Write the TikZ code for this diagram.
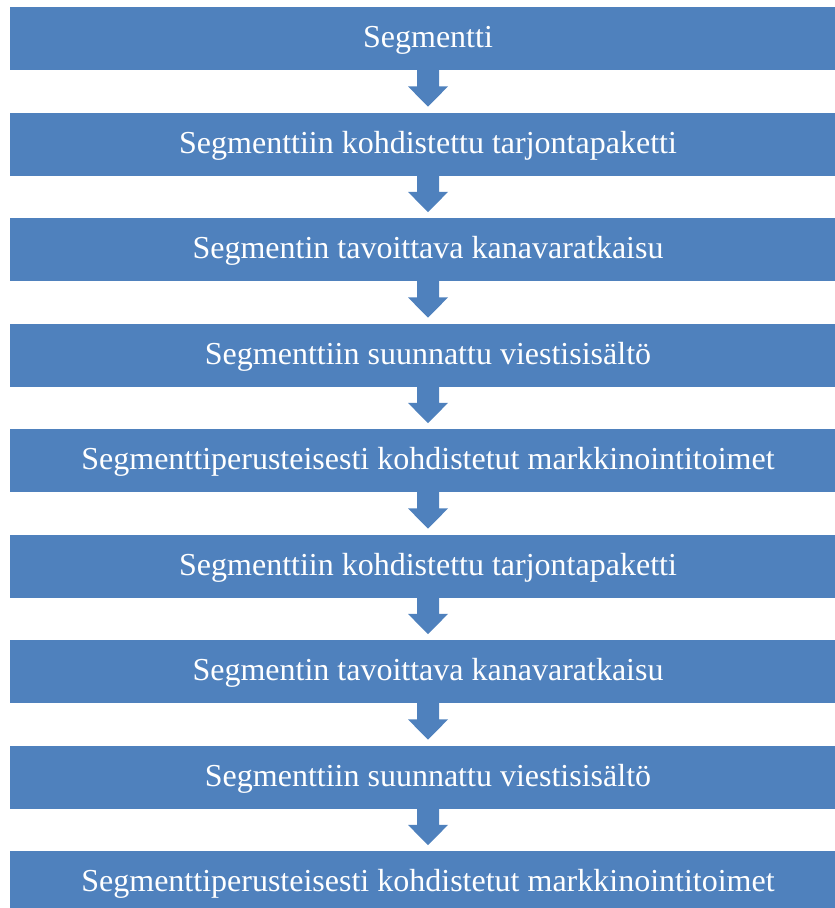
\documentclass[tikz,border=0pt]{standalone}
\usepackage{fontspec}
\setmainfont{Liberation Serif}
\usetikzlibrary{calc}
\definecolor{boxblue}{HTML}{4F81BD}
\tikzset{
  stage/.style={fill=boxblue, draw=none, text=white, minimum width=836pt, minimum height=63pt,
    inner sep=0pt, text height=24pt, text depth=6pt, anchor=north, font=\fontsize{32}{38}\selectfont},
  flowarrow/.style={fill=boxblue, draw=none}
}
\begin{document}
\begin{tikzpicture}[x=1pt,y=-1pt]
\useasboundingbox (0,0) rectangle (835,908);
\begin{scope}
\clip (0,0) rectangle (835,908);
\node[stage] (b1) at (428,7) {Segmentti};
\node[stage] (b2) at (428,112.5) {Segmenttiin kohdistettu tarjontapaketti};
\node[stage] (b3) at (428,218) {Segmentin tavoittava kanavaratkaisu};
\node[stage] (b4) at (428,323.5) {Segmenttiin suunnattu viestisisältö};
\node[stage] (b5) at (428,429) {Segmenttiperusteisesti kohdistetut markkinointitoimet};
\node[stage] (b6) at (428,534.5) {Segmenttiin kohdistettu tarjontapaketti};
\node[stage] (b7) at (428,640) {Segmentin tavoittava kanavaratkaisu};
\node[stage] (b8) at (428,745.5) {Segmenttiin suunnattu viestisisältö};
\node[stage] (b9) at (428,851) {Segmenttiperusteisesti kohdistetut markkinointitoimet};
\foreach \i in {1,...,8}{
  \pgfmathtruncatemacro\j{\i+1}
  \fill[flowarrow] ([xshift=-11pt,yshift=1pt]b\i.south) -- ([xshift=-11pt,yshift=-16pt]b\i.south)
    -- ([xshift=-20pt,yshift=-16pt]b\i.south) -- ([yshift=5.8pt]b\j.north)
    -- ([xshift=20pt,yshift=-16pt]b\i.south) -- ([xshift=11pt,yshift=-16pt]b\i.south)
    -- ([xshift=11pt,yshift=1pt]b\i.south) -- cycle;
}
\end{scope}
\end{tikzpicture}
\end{document}
